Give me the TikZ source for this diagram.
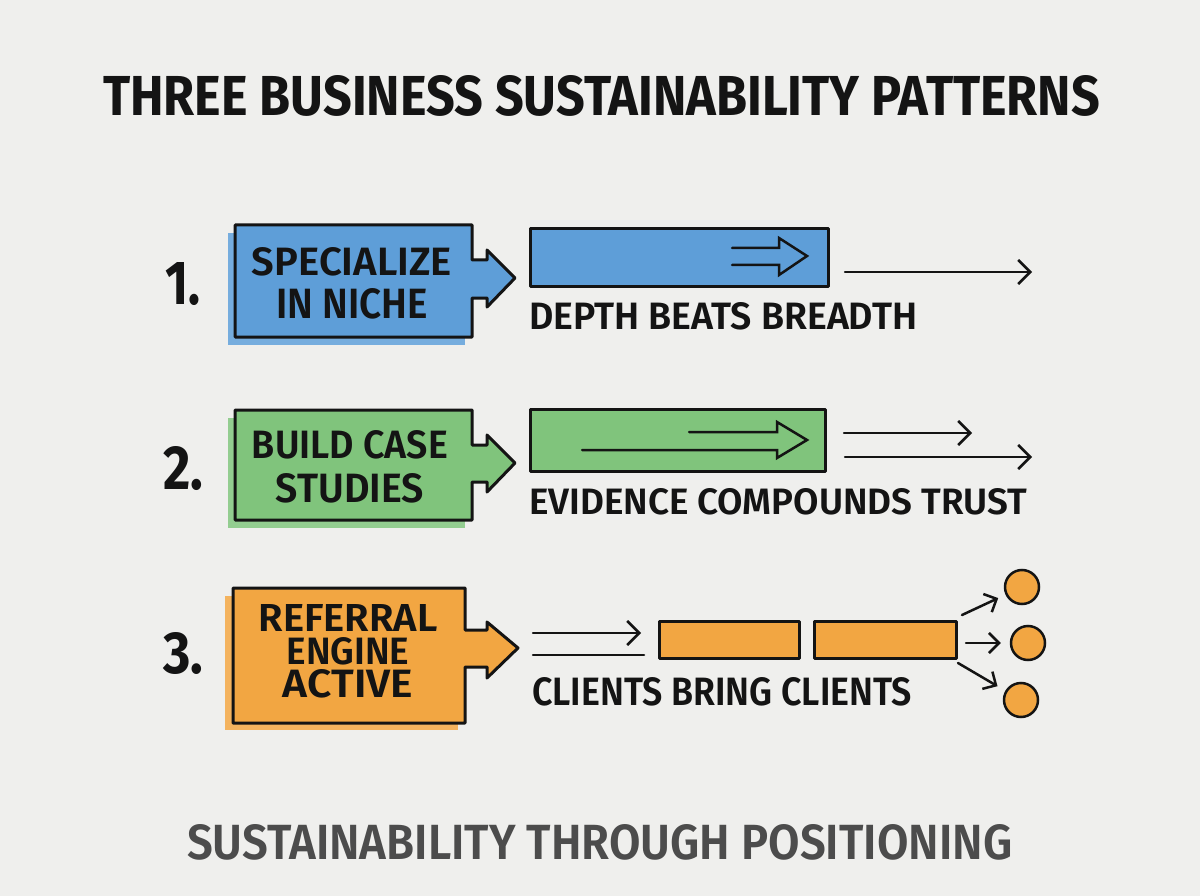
\documentclass[tikz,border=0pt]{standalone}
\usepackage{fontspec}
\setmainfont{Fira Sans}
\newfontfamily\semi{Fira Sans SemiBold}
\usepackage{graphicx}
\usetikzlibrary{arrows.meta}
\definecolor{bg}{HTML}{EFEFED}
\definecolor{ink}{HTML}{141414}
\definecolor{grayink}{HTML}{4C4C4C}
\definecolor{blueF}{HTML}{5E9ED8}
\definecolor{greenF}{HTML}{80C47C}
\definecolor{orangeF}{HTML}{F2A642}
\newcommand\fitxt[3]{\resizebox{#1pt}{#2pt}{\bfseries #3}}
\newcommand\fitsm[3]{\resizebox{#1pt}{#2pt}{\semi #3}}
\begin{document}
\begin{tikzpicture}[x=1pt,y=-1pt,
  txt/.style={anchor=base west,inner sep=0pt,outer sep=0pt,text=ink},
  stack/.style={anchor=north,inner sep=0pt,outer sep=0pt,text=ink,align=center,
    font={\fontsize{20pt}{#1}\selectfont}},
  boxline/.style={draw=ink,line width=3pt,line join=round},
  barbox/.style={draw=ink,line width=3pt,line join=round},
  arr/.style={draw=ink,line width=2.5pt,line cap=round,-{Straight Barb[length=12pt,width=24pt,line width=2.5pt]}},
  sarr/.style={draw=ink,line width=2.5pt,line cap=round,-{Straight Barb[length=10pt,width=20pt,line width=2.5pt]}},
  hollow/.style={draw=ink,line width=2.5pt,line cap=round,line join=miter},
  dot/.style={circle,draw=ink,line width=2.5pt,fill=orangeF,minimum size=34pt,inner sep=0pt}
]
\fill[bg] (0,0) rectangle (1200,896);
\useasboundingbox (0,0) rectangle (1200,896);

% title and footer
\node[txt] (title) at (103,116) {\fitxt{997}{40}{THREE BUSINESS SUSTAINABILITY PATTERNS}};
\node[txt,text=grayink] (footer) at (187,859) {\fitsm{825}{35}{SUSTAINABILITY THROUGH POSITIONING}};

% numbers
\node[txt] (n1) at (165,305) {\fitxt{35}{42}{1.}};
\node[txt] (n2) at (163,489) {\fitxt{40}{43}{2.}};
\node[txt] (n3) at (163,673) {\fitxt{40}{41}{3.}};

% ---------- row 1 ----------
\fill[blueF!85!white] (228,233) rectangle (465,345);
\draw[boxline,fill=blueF] (235,225) -- (472,225) -- (472,260) -- (487,260) -- (487,250) -- (515,278)
  -- (487,307) -- (487,298) -- (472,298) -- (472,337) -- (235,337) -- cycle;
\node[stack=43pt] (t1) at (352,247) {\fitsm{200}{28}{SPECIALIZE}\\\fitsm{152}{30}{IN NICHE}};
\node[barbox,fill=blueF,minimum width=298pt,minimum height=58pt,inner sep=0pt,anchor=north west] (bar1) at (529,227) {};
\draw[hollow] (732,248) -- (779,248) -- (779,238) -- (807,256) -- (779,275) -- (779,265) -- (732,265);
\coordinate (r1s) at (845,272);
\coordinate (r1e) at (1032,272);
\draw[arr] (r1s) -- (r1e);
\node[txt] (c1) at (529,330) {\fitsm{388}{27}{DEPTH BEATS BREADTH}};

% ---------- row 2 ----------
\fill[greenF!85!white] (228,418) rectangle (465,528);
\draw[boxline,fill=greenF] (235,410) -- (472,410) -- (472,445) -- (487,445) -- (487,435) -- (515,463)
  -- (487,492) -- (487,482) -- (472,482) -- (472,520) -- (235,520) -- cycle;
\node[stack=44pt] (t2) at (350,430) {\fitsm{196}{28}{BUILD CASE}\\\fitsm{148}{29}{STUDIES}};
\node[barbox,fill=greenF,minimum width=295pt,minimum height=62pt,inner sep=0pt,anchor=north west] (bar2) at (529,408) {};
\draw[hollow] (689,432) -- (777,432) -- (777,422) -- (807,440) -- (777,458) -- (777,450) -- (582,450);
\coordinate (r2as) at (844,433);
\coordinate (r2ae) at (972,433);
\coordinate (r2bs) at (845,457);
\coordinate (r2be) at (1032,457);
\draw[arr] (r2as) -- (r2ae);
\draw[arr] (r2bs) -- (r2be);
\node[txt] (c2) at (529,514) {\fitsm{498}{26}{EVIDENCE COMPOUNDS TRUST}};

% ---------- row 3 ----------
\fill[orangeF!85!white] (225,596) rectangle (458,730);
\draw[boxline,fill=orangeF] (233,588) -- (465,588) -- (465,630) -- (487,630) -- (487,622) -- (518,648)
  -- (487,678) -- (487,667) -- (465,667) -- (465,723) -- (233,723) -- cycle;
\node[stack=33pt] (t3) at (348,604) {\fitsm{179}{27}{REFERRAL}\\\fitsm{123}{27}{ENGINE}\\\fitsm{130}{28}{ACTIVE}};
\coordinate (r3as) at (533,633);
\coordinate (r3ae) at (641,633);
\coordinate (r3bs) at (533,655);
\coordinate (r3be) at (644,655);
\draw[arr] (r3as) -- (r3ae);
\draw[draw=ink,line width=2.5pt,line cap=round] (r3bs) -- (r3be);
\node[barbox,fill=orangeF,minimum width=140pt,minimum height=37pt,inner sep=0pt,anchor=north west] (bar3a) at (658,620) {};
\node[barbox,fill=orangeF,minimum width=142pt,minimum height=37pt,inner sep=0pt,anchor=north west] (bar3b) at (813,620) {};
\node[dot] (d1) at (1022,587) {};
\node[dot] (d2) at (1028,643) {};
\node[dot] (d3) at (1021,700) {};
\coordinate (s1) at (962,615);
\coordinate (s2) at (966,643);
\coordinate (s3) at (958,663);
\draw[sarr,shorten >=8pt] (s1) -- (d1);
\draw[sarr,shorten >=9pt] (s2) -- (d2);
\draw[sarr,shorten >=9pt] (s3) -- (d3);
\node[txt] (c3) at (532,705) {\fitsm{380}{28}{CLIENTS BRING CLIENTS}};
\end{tikzpicture}
\end{document}
